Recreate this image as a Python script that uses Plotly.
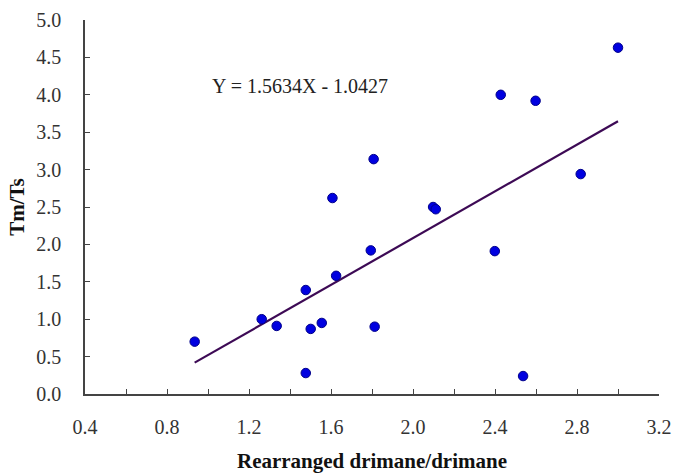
import plotly.graph_objects as go

x_vals = [0.935, 1.262, 1.335, 1.477, 1.477, 1.501, 1.555, 1.625, 1.607, 1.794,
          1.813, 1.808, 2.098, 2.111, 2.428, 2.598, 2.818, 3.0, 2.399, 2.537]
y_vals = [0.70, 1.00, 0.91, 1.39, 0.28, 0.87, 0.95, 1.58, 2.62, 1.92,
          0.90, 3.14, 2.50, 2.47, 4.00, 3.92, 2.94, 4.63, 1.91, 0.24]
slope = 1.5634
intercept = -1.0427
fit_x = [min(x_vals), max(x_vals)]
fit_y = [slope * v + intercept for v in fit_x]
x_ticks = [0.4, 0.8, 1.2, 1.6, 2.0, 2.4, 2.8, 3.2]
y_ticks = [0.0, 0.5, 1.0, 1.5, 2.0, 2.5, 3.0, 3.5, 4.0, 4.5, 5.0]

SERIF = "Liberation Serif, Times New Roman, serif"

fig = go.Figure()
fig.add_trace(go.Scatter(x=fit_x, y=fit_y, mode="lines",
                         line=dict(color="#3d0a55", width=2.2), showlegend=False))
fig.add_trace(go.Scatter(x=x_vals, y=y_vals, mode="markers",
                         marker=dict(color="#0000e0", size=9.5,
                                     line=dict(color="#00008a", width=1)),
                         showlegend=False))

fig.add_annotation(x=1.008, y=4.12, xref="x", yref="y", xanchor="left", yanchor="middle",
                   text="Y = 1.5634X - 1.0427", showarrow=False,
                   font=dict(family=SERIF, size=20, color="#222"))

axis_common = dict(showgrid=False, zeroline=False, showline=True, linecolor="#444",
                   linewidth=1.5, ticks="inside", ticklen=5, tickcolor="#444",
                   automargin=False,
                   tickfont=dict(family=SERIF, size=20, color="#333"))

fig.update_xaxes(range=[0.4, 3.2], tickvals=x_ticks,
                 ticktext=[f"{v:.1f}" for v in x_ticks],
                 minor=dict(dtick=0.2, ticks="inside", ticklen=5, tickcolor="#444"),
                 ticklabelstandoff=14,
                 title=dict(text="<b>Rearranged drimane/drimane</b>",
                            font=dict(family=SERIF, size=21, color="#111"), standoff=20),
                 **axis_common)
fig.update_yaxes(range=[0, 5.0], tickvals=y_ticks,
                 ticktext=[f"{v:.1f}" for v in y_ticks],
                 ticklabelstandoff=18,
                 title=dict(text="<b>Tm/Ts</b>",
                            font=dict(family=SERIF, size=21, color="#111"), standoff=6),
                 **axis_common)

fig.update_layout(width=675, height=473, margin=dict(l=85, r=16, t=20, b=79),
                  plot_bgcolor="white", paper_bgcolor="white")
fig.write_html("out.html", config={"displayModeBar": False},
               post_script="document.body.style.margin='0';document.body.style.overflow='hidden';")
